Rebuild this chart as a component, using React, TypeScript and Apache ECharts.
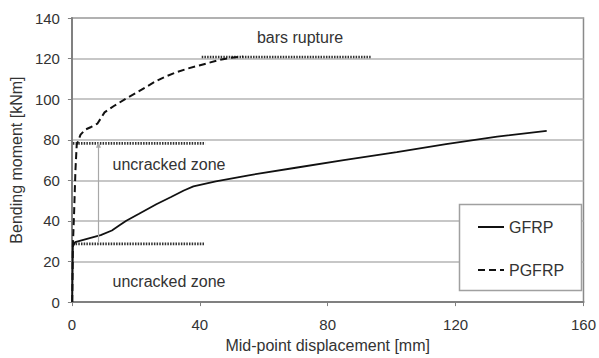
import React, { useEffect, useRef } from "react";
import * as echarts from "echarts";

const xTicks = [0, 40, 80, 120, 160];
const yTicks = [0, 20, 40, 60, 80, 100, 120, 140];

const gfrpData: [number, number][] = [
  [0.1, 0], [0.3, 27.5], [1, 29.5], [5, 31.3], [9, 33], [12.5, 35.3],
  [15, 38], [17, 40.1], [21, 43.5], [26.4, 48.2], [31, 51.8], [35, 55],
  [38, 57], [45, 59.5], [55.3, 62.5], [70, 66.2], [85, 70], [101.6, 73.9],
  [117, 77.9], [133, 81.5], [148.5, 84.4],
];

const pgfrpData: [number, number][] = [
  [0.1, 0], [0.3, 28], [0.7, 45], [1.1, 65], [1.5, 77.5], [2.7, 82.5],
  [4.2, 85], [6, 86.3], [8, 88], [10.2, 93.5], [13, 96.5], [17.1, 100.5],
  [20, 103], [23.3, 106.1], [26.4, 109], [29.5, 111.3], [32.6, 113.2],
  [36, 115], [39.8, 116.6], [43, 118], [46, 119.3], [49.5, 120.4], [53.5, 121],
];

const crackLowLine: [number, number][] = [[0.3, 28.7], [41.5, 28.7]];
const crackHighLine: [number, number][] = [[0.3, 78.2], [41.7, 78.2]];
const ruptureLine: [number, number][] = [[40.6, 120.8], [93.6, 120.8]];
const arrowLine: [number, number][] = [[8.3, 29.6], [8.3, 77.6]];

const FONT = "'Liberation Sans', Arial, sans-serif";

export default function App() {
  const ref = useRef<HTMLDivElement>(null);
  useEffect(() => {
    if (!ref.current) return;
    const chart = echarts.init(ref.current, undefined, { renderer: "svg" });
    const dotted = {
      type: "line",
      symbol: "none",
      silent: true,
      lineStyle: { color: "#333", width: 2.6, type: [1.5, 1.2] },
      z: 3,
    };
    chart.setOption({
      animation: false,
      textStyle: { fontFamily: FONT },
      grid: {
        left: 71,
        right: 11,
        top: 18,
        bottom: 50,
        show: true,
        borderColor: "#8a8a8a",
        borderWidth: 1.5,
      },
      xAxis: {
        type: "value",
        min: xTicks[0],
        max: xTicks[xTicks.length - 1],
        interval: 40,
        name: "Mid-point displacement [mm]",
        nameLocation: "middle",
        nameGap: 31,
        nameTextStyle: { fontSize: 16, color: "#333", fontFamily: FONT },
        axisLine: { show: true, onZero: false, lineStyle: { color: "#808080", width: 2 } },
        axisTick: { show: true, length: 4, lineStyle: { color: "#808080" } },
        axisLabel: { fontSize: 15, color: "#333", margin: 15, fontFamily: FONT },
        splitLine: { show: false },
      },
      yAxis: {
        type: "value",
        min: yTicks[0],
        max: yTicks[yTicks.length - 1],
        interval: 20,
        name: "Bending moment [kNm]",
        nameLocation: "middle",
        nameGap: 44,
        nameTextStyle: { fontSize: 16, color: "#333", fontFamily: FONT },
        axisLine: { show: true, lineStyle: { color: "#808080", width: 2 } },
        axisTick: { show: true, length: 4, lineStyle: { color: "#808080" } },
        axisLabel: { fontSize: 15, color: "#333", margin: 12, fontFamily: FONT },
        splitLine: { show: true, lineStyle: { color: "#b4b4b4", width: 1.5 } },
      },
      legend: {
        orient: "vertical",
        left: 477,
        top: 219,
        padding: 0,
        itemGap: 27,
        itemWidth: 26,
        itemHeight: 14,
        data: ["GFRP", "PGFRP"],
        itemStyle: { opacity: 0 },
        textStyle: { fontSize: 16, color: "#333", fontFamily: FONT, lineHeight: 16 },
        z: 6,
      },
      graphic: [
        {
          type: "rect",
          z: 5,
          shape: { x: 459.5, y: 204.5, width: 122, height: 86 },
          style: { fill: "#fff", stroke: "#a0a0a0", lineWidth: 1.5 },
        },
        {
          type: "text",
          x: 169,
          y: 164,
          z: 5,
          style: { text: "uncracked zone", font: `16px ${FONT}`, fill: "#333", align: "center", verticalAlign: "middle" },
        },
        {
          type: "text",
          x: 169,
          y: 281,
          z: 5,
          style: { text: "uncracked zone", font: `16px ${FONT}`, fill: "#333", align: "center", verticalAlign: "middle" },
        },
        {
          type: "text",
          x: 300,
          y: 37,
          z: 5,
          style: { text: "bars rupture", font: `16px ${FONT}`, fill: "#333", align: "center", verticalAlign: "middle" },
        },
      ],
      series: [
        {
          name: "GFRP",
          type: "line",
          data: gfrpData,
          symbol: "none",
          lineStyle: { color: "#111", width: 1.8, type: "solid" },
          itemStyle: { color: "#111" },
          z: 4,
        },
        {
          name: "PGFRP",
          type: "line",
          data: pgfrpData,
          symbol: "none",
          lineStyle: { color: "#111", width: 2, type: [7, 4] },
          itemStyle: { color: "#111" },
          z: 4,
        },
        { ...dotted, name: "crackLow", data: crackLowLine },
        { ...dotted, name: "crackHigh", data: crackHighLine },
        { ...dotted, name: "rupture", data: ruptureLine },
        {
          name: "arrow",
          type: "line",
          data: [],
          silent: true,
          markLine: {
            silent: true,
            symbol: ["none", "triangle"],
            symbolSize: [5, 6],
            label: { show: false },
            lineStyle: { color: "#a8a8a8", width: 1.2, type: "solid" },
            data: [[{ coord: arrowLine[0] }, { coord: arrowLine[1] }]],
          },
        },
      ],
    });
    return () => chart.dispose();
  }, []);
  return <div ref={ref} style={{ width: 599, height: 358, position: "absolute", left: 0, top: 0 }} />;
}
